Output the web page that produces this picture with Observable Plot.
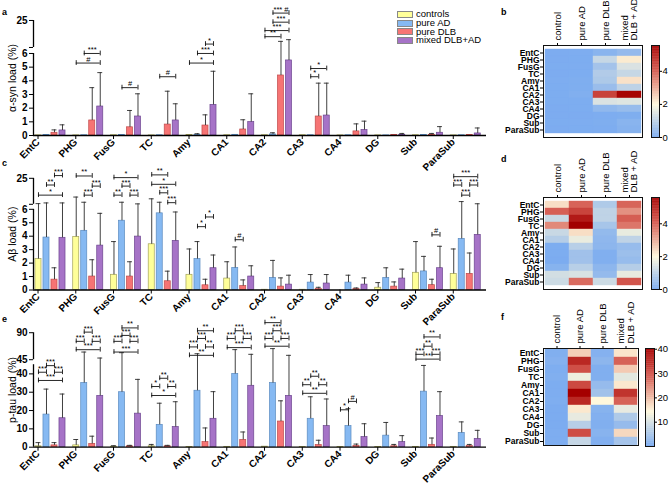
<!DOCTYPE html>
<html><head><meta charset="utf-8">
<script src="https://cdn.jsdelivr.net/npm/d3@7"></script>
<script src="https://cdn.jsdelivr.net/npm/@observablehq/plot@0.6"></script>
<style>
body{margin:0;background:#fff;}
#root{position:relative;width:670px;height:484px;overflow:hidden;background:#fff;font-family:"Liberation Sans",Arial,sans-serif;color:#000;}
.p{position:absolute;}
.p svg{overflow:visible;background:transparent;display:block;}
.lt{position:absolute;font-weight:bold;font-size:9px;line-height:12px;}
.legend{position:absolute;font-size:9.5px;line-height:8.8px;}
.legend .row{display:flex;align-items:center;height:8.8px;}
.legend .sw{display:inline-block;width:16px;height:7px;border:0.6px solid #888;margin-right:3px;box-sizing:border-box;}
g[aria-label="stars"] text{letter-spacing:0.6px;}
</style>
</head><body><div id="root"></div>
<script>
// ---------- categories ----------
const regions = ["EntC","PHG","FusG","TC","Amy","CA1","CA2","CA3","CA4","DG","Sub","ParaSub"];
const groups = ["controls","pure AD","pure DLB","mixed DLB+AD"];
const heatGroups = ["control","pure AD","pure DLB","mixed\nDLB + AD"];

// ---------- α-syn load (%) : means and mean+SD tops ----------
const asynControls = [0.01,0.01,0.02,0.01,0.03,0.02,0.02,0.02,0.01,0.01,0.02,0.01];
const asynAD       = [0.03,0.02,0.03,0.02,0.05,0.05,0.08,0.02,0.02,0.01,0.03,0.02];
const asynDLB      = [0.2,1.1,0.6,0.8,0.73,0.44,4.39,1.39,0.3,0.03,0.05,0.03];
const asynMixed    = [0.37,2.12,1.39,1.1,2.24,0.98,5.49,1.46,0.4,0.05,0.2,0.15];
const asynControlsTop = [0.01,0.01,0.02,0.01,0.05,0.02,0.02,0.02,0.01,0.01,0.04,0.01];
const asynADTop       = [0.05,0.02,0.05,0.02,0.13,0.1,0.2,0.04,0.04,0.01,0.05,0.04];
const asynDLBTop      = [0.41,3.5,1.83,3.24,1.51,1.15,10.3,3.83,0.85,0.08,0.15,0.08];
const asynMixedTop    = [0.78,4.6,3.05,2.32,4.7,3.05,11.5,3.83,1.05,0.15,0.65,0.55];
const asynTicksLower = [0,1,2,3,4,5,6];
const asynTicksUpper = [6,25];
// [region index, group A, group B, bracket level, label]
const asynBrackets = [
  [1,1,3,6.0,"***"],[1,0,3,5.3,"#"],[2,1,3,3.5,"#"],[3,1,3,4.3,"#"],
  [4,2,3,8.4,"*"],[4,1,3,6.0,"***"],[4,0,3,5.3,"*"],
  [6,0,2,13.6,"**"],[6,0,3,17.9,"***"],[6,1,3,23.8,"***"],[6,1,3,30.2,"*** #"],
  [7,1,2,4.3,"*"],[7,1,3,4.9,"*"]
];

// ---------- Aβ load (%) ----------
const abControls = [2.3,3.95,1.13,3.4,1.13,0.85,0.02,0.02,0.0,0.17,1.28,1.2];
const abAD       = [3.9,4.4,5.15,5.7,2.3,1.64,0.9,0.55,0.55,0.9,1.38,3.8];
const abDLB      = [0.77,1.0,1.0,0.65,0.35,0.29,0.25,0.07,0.07,0.25,0.36,1.2];
const abMixed    = [3.88,3.3,3.97,3.65,1.62,1.0,0.4,0.48,0.4,0.85,1.62,4.1];
const abControlsTop = [6.5,11.3,3.6,10,3.05,2.1,0.05,0.05,0,0.55,3.6,3.05];
const abADTop       = [7,7.5,7.5,7.5,3.6,3.2,2.2,1.15,1.1,1.65,2.5,8];
const abDLBTop      = [1.65,2.25,2.1,1.4,0.8,0.75,0.9,0.2,0.15,0.6,0.8,2.75];
const abMixedTop    = [7,5.7,6.3,5.8,2.6,1.8,1.1,1.15,0.9,1.55,3.25,6.4];
const abTicksLower = [0,1,2,3,4,5,6];
const abTicksUpper = [6,25];
const abBrackets = [
  [0,1,2,20.1,"**"],[0,2,3,27,"***"],[0,0,3,12.7,"*"],
  [1,0,2,26.7,"**"],[1,2,3,19.3,"***"],[1,1,2,12.7,"***"],
  [2,0,3,25.5,"*"],[2,1,2,19.3,"***"],[2,0,1,12.7,"**"],[2,2,3,12.7,"***"],
  [3,0,2,27.5,"**"],[3,0,3,20.6,"*"],[3,1,2,14.4,"***"],[3,2,3,7.2,"***"],
  [4,1,2,4.71,"*"],[4,2,3,5.43,"*"],
  [5,1,2,3.74,"#"],
  [10,2,3,4.1,"#"],
  [11,0,3,26.2,"***"],[11,0,1,20.1,"***"],[11,2,3,20.1,"***"],[11,1,2,12.7,"***"]
];

// ---------- p-tau load (%) ----------
const ptauControls = [0.5,1.0,0.3,0.5,0.1,0.2,0.3,0.05,0.05,0.05,0.2,0.2];
const ptauAD       = [17.8,35,30,12.2,30.8,40,35,15.5,11.5,6.3,30.3,7.8];
const ptauDLB      = [1.0,1.8,0.5,0.5,2.8,4,14,1.2,0.7,0.5,1.3,0.6];
const ptauMixed    = [15.8,28,18.3,11,15.5,33.5,28,11.5,5.5,2.8,17,4.5];
const ptauControlsTop = [2.5,4.2,0.8,1.5,0.3,0.5,0.6,0.2,0.2,0.2,0.5,0.5];
const ptauADTop       = [31.7,57.8,56.7,24,55,61.8,63.5,27.5,21,13.5,44.6,13.8];
const ptauDLBTop      = [2.5,6,1,1,10.5,8.3,25.3,3.8,1.7,1.5,5,1.5];
const ptauMixedTop    = [29,47.8,37,24.8,30.3,54,52.3,26.3,12.8,6.3,30.3,9.2];
const ptauTicksLower = [0,10,20,30,40];
const ptauTicksUpper = [45,90];
const ptauBrackets = [
  [0,1,2,44.5,"***"],[0,0,1,40.9,"***"],[0,2,3,40.9,"***"],[0,0,3,36.4,"***"],
  [1,0,3,61.7,"***"],[1,0,1,75.6,"***"],[1,2,3,75.6,"***"],[1,1,2,91,"***"],
  [2,0,3,57.8,"***"],[2,0,1,75.6,"***"],[2,2,3,75.6,"***"],[2,1,2,85.5,"***"],[2,1,3,98,"**"],
  [3,0,3,28.2,"*"],[3,0,1,33.1,"*"],[3,2,3,33.1,"**"],[3,1,2,37.6,"**"],
  [4,0,3,52.3,"**"],[4,0,1,66.3,"***"],[4,2,3,66.3,"**"],[4,1,2,80.4,"***"],[4,1,3,93.3,"**"],
  [5,0,3,65.2,"***"],[5,0,1,80.4,"***"],[5,2,3,80.4,"***"],[5,1,2,93.3,"***"],
  [6,0,3,67.5,"**"],[6,0,1,80.4,"***"],[6,2,3,80.4,"***"],[6,1,2,93.3,"***"],[6,0,2,106.8,"**"],
  [7,0,3,29.4,"**"],[7,0,1,34.1,"**"],[7,2,3,34.1,"**"],[7,1,2,38.7,"**"],
  [8,0,1,20.4,"*"],[8,1,2,25,"#"],
  [10,0,3,46,"**"],[10,0,1,54,"***"],[10,2,3,54,"***"],[10,1,2,67.5,"**"],[10,1,3,83,"**"]
];

// heatmap colorbar ticks
const asynBarTicks = [0,2,4];
const abBarTicks = [0,2,4];
const ptauBarTicks = [10,20,30,40];

// ---------- styling ----------
const groupFill = ["#ffff99","#86b9f2","#f67474","#a673c7"];
const groupStroke = ["#a3a35a","#5b8bc0","#c04a4a","#6d4490"];
const heatColors = ["#7cacf0","#fff8dc","#d4594f","#a50000"];
const FONT = '"Liberation Sans", Arial, sans-serif';
const off = [0.132, 0.344, 0.556, 0.768];
const hw = 0.08;
const root = document.getElementById("root");

function place(node, left, top) {
  const d = document.createElement("div");
  d.className = "p"; d.style.left = left + "px"; d.style.top = top + "px";
  d.appendChild(node); root.appendChild(d);
}

function barPanel(cfg) {
  const {series, tops, brackets, top, height, zeroY, px, gapPx, upx, lowerMax, upperMax, ticksLower, ticksUpper, ylabel} = cfg;
  const brkU = v => lowerMax + gapPx / px + (v - lowerMax) * upx / px;
  const brk = v => v <= lowerMax ? v : brkU(v);
  const dmax = brkU(upperMax);
  const marginBottom = height - (zeroY - top);
  const marginTop = (zeroY - top) - dmax * px;
  const rows = [];
  series.forEach((arr, gi) => arr.forEach((m, ri) => rows.push({ri, gi, mean: m, upper: tops[gi][ri]})));
  const cx = d => d.ri + off[d.gi];
  const tickVals = [...ticksLower.map(v => v), ...ticksUpper.map(brkU)];
  // a value shared by both axis segments is labelled once (on the lower segment)
  const tickLabels = [...ticksLower.map(String), ...ticksUpper.map(v => ticksLower.includes(v) ? "" : String(v))];
  const fmt = new Map(tickVals.map((t, i) => [t, tickLabels[i]]));
  const capD = 2.4 / px;
  const br = brackets.map(([ri, g1, g2, y, label]) => ({x1: ri + off[g1], x2: ri + off[g2], y: brk(y), label}));
  const ends = br.flatMap(b => [{x: b.x1, y: b.y}, {x: b.x2, y: b.y}]);
  const err = rows.filter(d => (brk(d.upper) - brk(d.mean)) * px > 0.8);
  const axisSegs = [{y1: 0, y2: lowerMax}, {y1: brkU(lowerMax), y2: dmax}];
  const tickPos = regions.map((_, i) => i + 0.12);
  return Plot.plot({
    width: 530, height, marginLeft: 33, marginRight: 44, marginTop, marginBottom,
    style: {fontFamily: FONT, fontSize: "10px", fontWeight: "bold", background: "transparent", overflow: "visible", color: "black"},
    x: {domain: [0, 12], ticks: tickPos, tickFormat: d => regions[Math.round(d - 0.12)], tickRotate: -45, tickSize: 4, tickPadding: 1, label: null},
    y: {domain: [0, dmax], ticks: tickVals, tickFormat: d => fmt.get(d), tickSize: 4, tickPadding: 2, label: null},
    marks: [
      ...[0, 1, 2, 3].map(gi => Plot.rect(rows.filter(d => d.gi === gi), {
        x1: d => cx(d) - hw, x2: d => cx(d) + hw, y1: () => 0, y2: d => brk(d.mean),
        fill: groupFill[gi], stroke: groupStroke[gi], strokeWidth: 0.7})),
      Plot.ruleX(err, {x: cx, y1: d => brk(d.mean), y2: d => brk(d.upper), stroke: "#2b2b2b", strokeWidth: 0.9}),
      Plot.ruleY(err, {y: d => brk(d.upper), x1: d => cx(d) - 0.065, x2: d => cx(d) + 0.065, stroke: "#2b2b2b", strokeWidth: 0.9}),
      Plot.ruleY([0], {stroke: "black", strokeWidth: 1.3}),
      Plot.ruleX(axisSegs, {x: () => 0, y1: "y1", y2: "y2", stroke: "black", strokeWidth: 1.3}),
      Plot.ruleY(br, {y: "y", x1: "x1", x2: "x2", stroke: "#111", strokeWidth: 0.9}),
      Plot.ruleX(ends, {x: "x", y1: d => d.y - capD, y2: d => d.y + capD, stroke: "#111", strokeWidth: 0.9}),
      Plot.text(br, {x: d => (d.x1 + d.x2) / 2, y: "y", text: "label", dy: -1.5, lineAnchor: "bottom", fontSize: 7.5, fontWeight: "normal", ariaLabel: "stars"}),
      Plot.text([ylabel], {text: d => d, frameAnchor: "left", textAnchor: "middle", rotate: -90, dx: -21, fontSize: 10.5, fontWeight: "normal"})
    ]
  });
}

function colorCfg(max) {
  return {type: "linear", domain: [0, 0.35 * max, 0.72 * max, max], range: heatColors, interpolate: "rgb"};
}

function heatPanel({series, max, height, marginTop, marginBottom, marginRight}) {
  const cells = [];
  series.forEach((arr, gi) => arr.forEach((v, ri) => cells.push({col: heatGroups[gi], region: regions[ri], value: v})));
  return Plot.plot({
    width: 190, height, marginLeft: 63, marginRight, marginTop, marginBottom,
    style: {fontFamily: FONT, fontSize: "8.5px", fontWeight: "bold", background: "transparent", overflow: "visible", color: "black"},
    x: {domain: heatGroups, padding: 0, axis: "top", tickSize: 3, tickFormat: () => "", label: null},
    y: {domain: regions, padding: 0, tickSize: 3, tickPadding: 1, label: null},
    color: colorCfg(max),
    marks: [
      Plot.cell(cells, {x: "col", y: "region", fill: "value", stroke: "value", strokeWidth: 0.4, inset: 0}),
      Plot.frame({stroke: "#111", strokeWidth: 1}),
      Plot.text(heatGroups, {x: d => d, text: d => d, frameAnchor: "top", rotate: -90, textAnchor: "start", lineAnchor: "middle", dy: -5, fontWeight: "normal", fontSize: 9.5})
    ]
  });
}

function colorBar({max, ticks, height, marginTop, marginBottom, marginLeft, marginRight}) {
  const n = 150;
  const stops = d3.range(n).map(i => i * max / n);
  return Plot.plot({
    width: 30, height, marginTop, marginBottom, marginLeft, marginRight,
    style: {fontFamily: FONT, fontSize: "9.5px", background: "transparent", overflow: "visible", color: "black"},
    x: {domain: [0, 1], axis: null},
    y: {domain: [0, max], axis: "right", ticks, tickFormat: d => String(d), tickSize: 2, tickPadding: 1, label: null},
    color: colorCfg(max),
    marks: [
      Plot.rect(stops, {x1: () => 0, x2: () => 1, y1: d => d, y2: d => Math.min(max, d + 1.5 * max / n), fill: d => d}),
      Plot.frame({stroke: "#111", strokeWidth: 1})
    ]
  });
}

// ---------- bar panels ----------
place(barPanel({
  series: [asynControls, asynAD, asynDLB, asynMixed],
  tops: [asynControlsTop, asynADTop, asynDLBTop, asynMixedTop],
  brackets: asynBrackets, top: 0, height: 160, zeroY: 135, px: 13.67, gapPx: 6, upx: 27 / 19,
  lowerMax: 6, upperMax: 25, ticksLower: asynTicksLower, ticksUpper: asynTicksUpper, ylabel: "α-syn load (%)"
}), 0, 0);

place(barPanel({
  series: [abControls, abAD, abDLB, abMixed],
  tops: [abControlsTop, abADTop, abDLBTop, abMixedTop],
  brackets: abBrackets, top: 150, height: 160, zeroY: 289.5, px: 13.45, gapPx: 5, upx: 26 / 19,
  lowerMax: 6, upperMax: 25, ticksLower: abTicksLower, ticksUpper: abTicksUpper, ylabel: "Aβ load (%)"
}), 0, 150);

place(barPanel({
  series: [ptauControls, ptauAD, ptauDLB, ptauMixed],
  tops: [ptauControlsTop, ptauADTop, ptauDLBTop, ptauMixedTop],
  brackets: ptauBrackets, top: 310, height: 174, zeroY: 446.7, px: 1.833, gapPx: 5, upx: 0.6,
  lowerMax: 45, upperMax: 90, ticksLower: ptauTicksLower, ticksUpper: ptauTicksUpper, ylabel: "p-tau load (%)"
}), 0, 310);

// ---------- heatmaps ----------
place(heatPanel({series: [asynControls, asynAD, asynDLB, asynMixed], max: 5.56, height: 145, marginTop: 45, marginBottom: 8, marginRight: 28}), 480, 0);
place(colorBar({max: 5.56, ticks: asynBarTicks, height: 145, marginTop: 45, marginBottom: 8, marginLeft: 11, marginRight: 11}), 640, 0);

place(heatPanel({series: [abControls, abAD, abDLB, abMixed], max: 5.6, height: 145, marginTop: 47, marginBottom: 6, marginRight: 28}), 480, 150);
place(colorBar({max: 5.6, ticks: abBarTicks, height: 145, marginTop: 47, marginBottom: 6, marginLeft: 11, marginRight: 11}), 640, 150);

place(heatPanel({series: [ptauControls, ptauAD, ptauDLB, ptauMixed], max: 40, height: 179, marginTop: 43, marginBottom: 39, marginRight: 32}), 480, 305);
place(colorBar({max: 40.3, ticks: ptauBarTicks, height: 179, marginTop: 43, marginBottom: 38, marginLeft: 5, marginRight: 16}), 640, 305);

// ---------- legend ----------
const leg = document.createElement("div");
leg.className = "legend"; leg.style.left = "397px"; leg.style.top = "10px";
groups.forEach((g, i) => {
  const r = document.createElement("div"); r.className = "row";
  const s = document.createElement("span"); s.className = "sw"; s.style.background = groupFill[i];
  r.appendChild(s); r.appendChild(document.createTextNode(g)); leg.appendChild(r);
});
root.appendChild(leg);

// ---------- panel letters ----------
[["a",2,6],["b",501,6],["c",2,157],["d",501,153],["e",2,313],["f",501,311]].forEach(([t,x,y]) => {
  const d = document.createElement("div"); d.className = "lt"; d.style.left = x + "px"; d.style.top = y + "px";
  d.textContent = t; root.appendChild(d);
});
</script>
</body></html>
